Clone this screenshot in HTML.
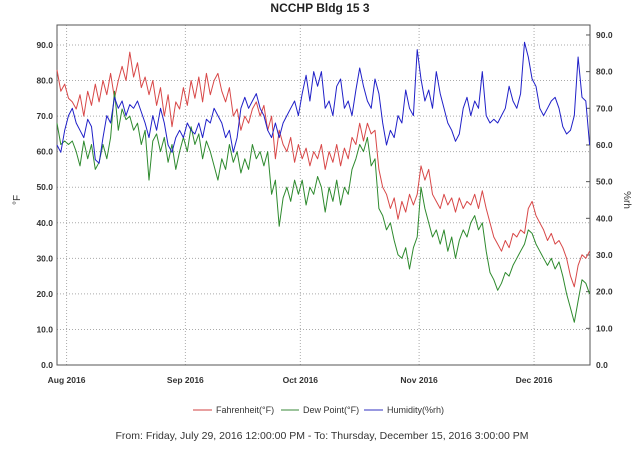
<!DOCTYPE html>
<html><head><meta charset="utf-8"><style>
body{margin:0;background:#fff;width:640px;height:445px;overflow:hidden;font-family:"Liberation Sans",sans-serif}
svg text{font-family:"Liberation Sans",sans-serif}
</style></head><body>
<svg id="chart" width="640" height="445" xmlns="http://www.w3.org/2000/svg">
<text x="320" y="12" text-anchor="middle" font-size="12" font-weight="bold" fill="#222">NCCHP Bldg 15 3</text>
<g id="grid"></g>
<rect x="57" y="25" width="533" height="340" fill="none" stroke="#555" stroke-width="1"/>
<g id="axes"></g>
<g id="series"></g>
<text transform="translate(20,200) rotate(-90)" text-anchor="middle" font-size="10" fill="#333">°F</text>
<text transform="translate(624,200) rotate(90)" text-anchor="middle" font-size="10" fill="#333">%rh</text>
<g font-size="9" fill="#333">
<g><line x1="193" y1="410" x2="212" y2="410" stroke="#d04040"/><text x="216" y="413">Fahrenheit(°F)</text></g>
<g><line x1="281" y1="410" x2="299" y2="410" stroke="#3a8a3a"/><text x="303" y="413">Dew Point(°F)</text></g>
<g><line x1="364" y1="410" x2="383" y2="410" stroke="#3030c0"/><text x="387" y="413">Humidity(%rh)</text></g>
</g>
<text x="322" y="439" text-anchor="middle" font-size="10.5" fill="#333">From: Friday, July 29, 2016 12:00:00 PM  -  To: Thursday, December 15, 2016 3:00:00 PM</text>
</svg>
<script>
const leftTicks=[0,10,20,30,40,50,60,70,80,90];
const rightTicks=[0,10,20,30,40,50,60,70,80,90];
const monthLabels=["Aug 2016","Sep 2016","Oct 2016","Nov 2016","Dec 2016"];
const monthDays=[2.5,33.5,63.5,94.5,124.5];
const fahrenheit=[83,77,79,75,74,72,76,70,77,73,79,74,80,76,82,75,80,84,80,88,81,85,78,81,76,80,73,78,70,76,67,74,72,78,73,80,75,81,74,82,76,80,82,77,74,78,70,72,66,70,68,72,74,70,73,66,70,58,66,62,60,64,57,62,58,61,56,60,58,62,55,60,57,62,56,61,58,64,62,68,63,68,65,66,55,50,48,44,47,41,46,43,48,45,48,56,52,55,48,46,44,48,45,47,43,47,44,46,45,48,44,49,44,40,36,34,32,35,33,37,36,38,37,44,46,42,40,38,35,37,34,35,33,30,25,22,28,31,30,32];
const dewPoint=[68,62,63,62,63,60,56,63,58,62,55,57,62,58,64,77,66,72,69,70,66,68,62,66,52,63,65,60,64,57,62,55,60,64,60,67,62,65,58,63,60,56,52,58,55,62,57,60,54,58,55,62,58,60,56,60,48,52,39,47,50,46,52,48,52,45,50,48,53,50,43,50,46,52,45,50,48,55,58,62,60,64,56,58,44,42,38,40,35,31,30,33,27,33,36,50,44,40,36,38,34,38,32,36,30,35,38,36,40,42,38,40,32,26,24,21,23,26,25,28,30,32,34,38,37,34,32,30,28,30,27,29,25,20,16,12,18,24,23,20];
const humidity=[60,58,64,68,70,66,64,62,67,65,56,55,62,68,66,73,70,72,68,71,70,72,69,66,62,68,64,70,66,60,58,62,64,62,66,64,63,66,62,67,66,70,68,66,62,64,58,62,70,73,70,72,74,70,68,64,62,66,62,66,68,70,72,68,74,79,72,80,76,80,70,72,68,76,78,70,72,68,75,81,76,72,70,78,74,66,60,64,62,68,66,75,70,68,86,78,72,75,70,80,74,70,66,64,61,63,70,73,68,72,70,80,68,66,67,66,68,70,76,72,70,74,88,84,78,76,70,68,70,72,73,70,65,63,64,68,84,73,72,60];
const X0=57,X1=590,Y0=365,T0=0,T1=139.1;
function xs(d){return X0+(d-T0)/(T1-T0)*(X1-X0);}
function yl(v){return Y0-v*3.556;}
function yr(v){return Y0-v*3.667;}
const NS="http://www.w3.org/2000/svg";
function mk(tag,attrs,parent){const e=document.createElementNS(NS,tag);for(const k in attrs)e.setAttribute(k,attrs[k]);parent.appendChild(e);return e;}
const grid=document.getElementById('grid'),axes=document.getElementById('axes'),series=document.getElementById('series');
leftTicks.forEach(v=>{const y=yl(v);
 if(v>0){const g=mk('line',{x1:X0,x2:X1,y1:y,y2:y,stroke:'#aaa','stroke-dasharray':'1,2'},grid);
 
 }
 const t=mk('text',{x:X0-4,y:y+3,'text-anchor':'end','font-size':'8.5','font-weight':'bold',fill:'#333'},axes);t.textContent=v.toFixed(1);
 
 
});
rightTicks.forEach(v=>{const y=yr(v);
 const tk=mk('line',{x1:X1,x2:X1-4,y1:y,y2:y,stroke:'#555'},axes);
 
 
 const t=mk('text',{x:X1+6,y:y+3,'font-size':'8.5','font-weight':'bold',fill:'#333'},axes);t.textContent=v.toFixed(1);
 
 
});
monthDays.forEach((d,i)=>{const x=xs(d);
 const g=mk('line',{x1:x,x2:x,y1:25,y2:Y0,stroke:'#aaa','stroke-dasharray':'1,2'},grid);
 
 
 const t=mk('text',{x:x,y:383,'text-anchor':'middle','font-size':'8.5','font-weight':'bold',fill:'#333'},axes);t.textContent=monthLabels[i];
 
 
});
function draw(arr,yf,color,name){const pts=arr.map((v,i)=>xs(i).toFixed(1)+','+yf(v).toFixed(1)).join(' ');
 const p=mk('polyline',{points:pts,fill:'none',stroke:color,'stroke-width':'1','stroke-linejoin':'round'},series);
 
 }
draw(fahrenheit,yl,'#d84848','fahrenheit-line');
draw(dewPoint,yl,'#2e8a2e','dew-point-line');
draw(humidity,yr,'#2020c8','humidity-line');
</script>
</body></html>
